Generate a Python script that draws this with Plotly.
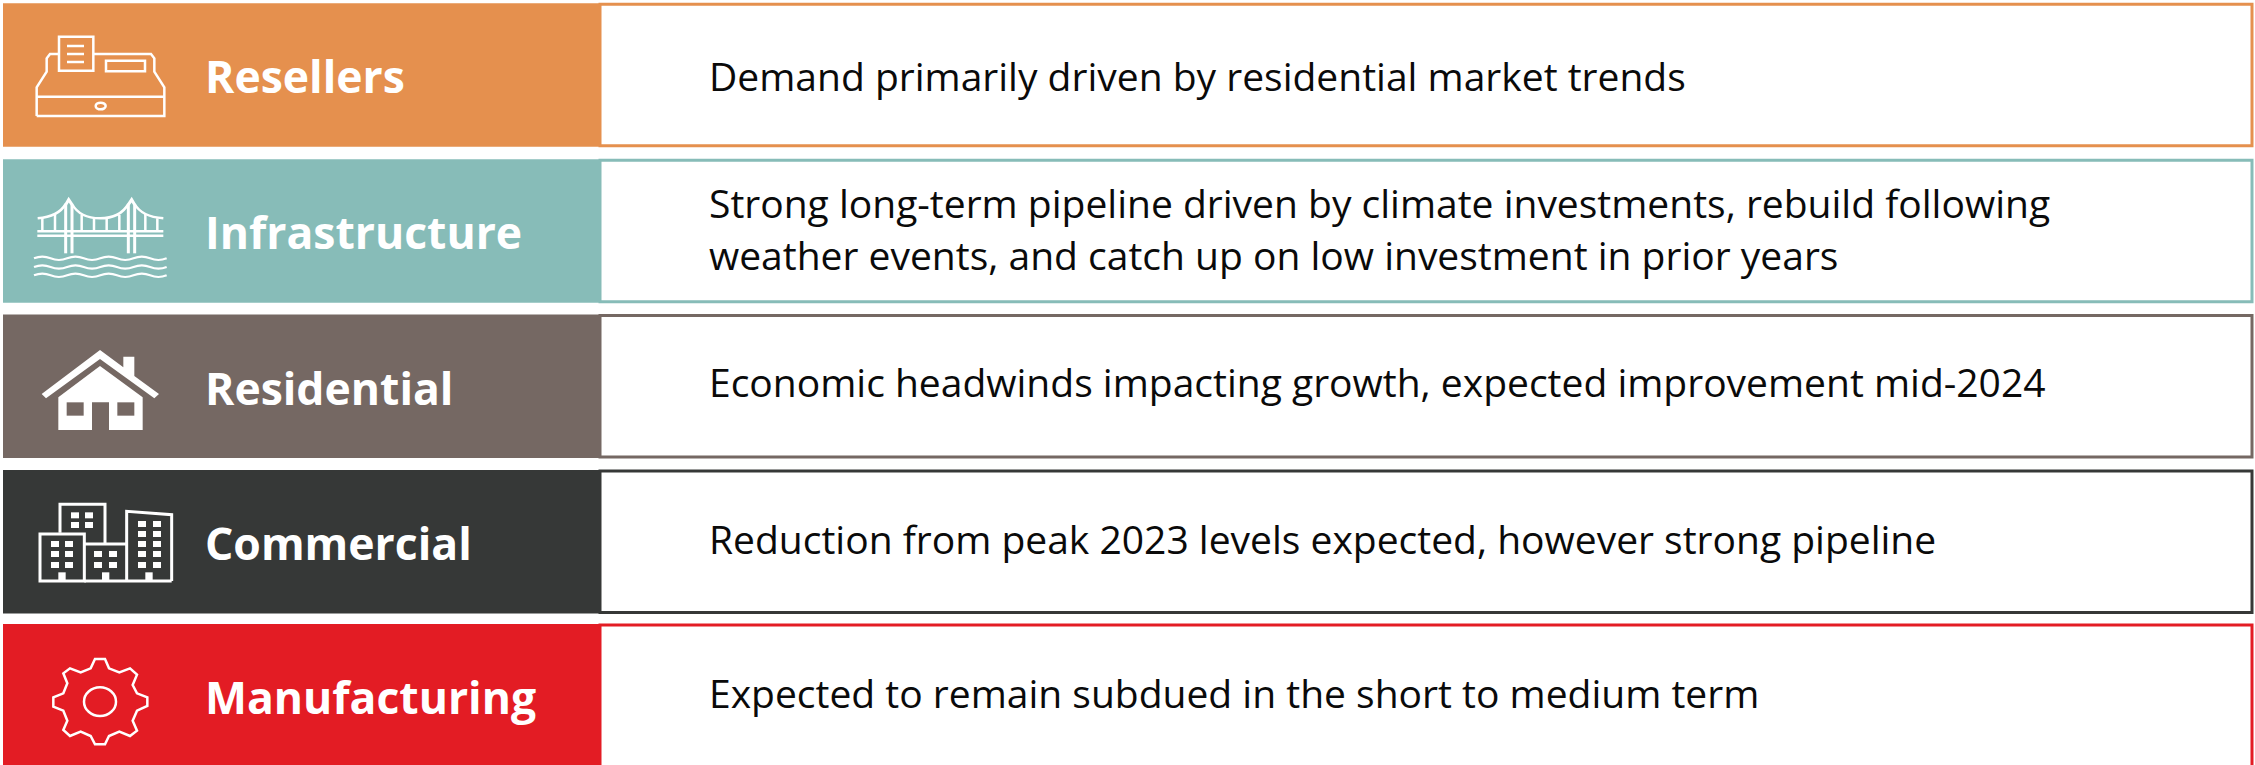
import plotly.graph_objects as go

categories = ["Resellers", "Infrastructure", "Residential", "Commercial", "Manufacturing"]
descriptions = [
    ["Demand primarily driven by residential market trends"],
    ["Strong long-term pipeline driven by climate investments, rebuild following",
     "weather events, and catch up on low investment in prior years"],
    ["Economic headwinds impacting growth, expected improvement mid-2024"],
    ["Reduction from peak 2023 levels expected, however strong pipeline"],
    ["Expected to remain subdued in the short to medium term"],
]
colors = ["#E5904E", "#87BCB8", "#756863", "#363837", "#E31C24"]
band_tops = [3.3, 159.3, 314.5, 470, 624]
desc_shift = [0, -3, -5, -3, -3]
label_shift = [0, 0, 1, 1, 1]
BAND_H = 143.5
X0, XM, X1 = 3, 600, 2252
FONT = "Open Sans"
LABEL_SIZE = 44.5
DESC_SIZE = 39
SW = 2.5
OX, F = 25, 3  # icon tracing origin and scale

shapes, annos = [], []

def X(x):
    return f"{OX + x / F:.2f}"

def Y(y, oy):
    return f"{oy + y / F:.2f}"

def zpath(points, oy, close=True):
    s = "M" + " L".join(f"{X(x)},{Y(y, oy)}" for x, y in points)
    return s + (" Z" if close else "")

def stroke(path, w=SW, color="white"):
    shapes.append(dict(type="path", path=path, line=dict(color=color, width=w), fillcolor="rgba(0,0,0,0)", layer="above"))

def fill(path, color="white"):
    shapes.append(dict(type="path", path=path, line=dict(width=0), fillcolor=color, layer="above"))

def zrect(x0, y0, x1, y1):
    return [(x0, y0), (x1, y0), (x1, y1), (x0, y1)]

def ellipse(cx, cy, rx, ry, oy):
    shapes.append(dict(type="circle", x0=OX + (cx - rx) / F, x1=OX + (cx + rx) / F,
                       y0=oy + (cy - ry) / F, y1=oy + (cy + ry) / F,
                       line=dict(color="white", width=SW), layer="above"))

# Bands
for top, c in zip(band_tops, colors):
    bot = top + BAND_H
    shapes.append(dict(type="rect", x0=XM, x1=X1, y0=top + 1, y1=bot - 1, line=dict(color=c, width=3), fillcolor="white", layer="below"))
    shapes.append(dict(type="rect", x0=X0, x1=XM, y0=top, y1=bot, line=dict(width=0), fillcolor=c, layer="below"))

# Register icon
O = 30
stroke(zpath([(35,258),(35,172),(65,125),(65,85),(75,72),(102,72)], O, close=False))
stroke(zpath([(205,72),(378,72),(388,85),(388,125),(418,172),(418,258),(35,258)], O, close=False))
stroke(zpath(zrect(102,20,205,122), O))
stroke(zpath(zrect(243,92,360,124), O))
stroke(zpath([(35,200),(418,200)], O, close=False))
for y in (48,72,96):
    stroke(zpath([(126,y),(177,y)], O, close=False))
ellipse(227, 228, 15, 10, O)

# Bridge icon
O = 190
def q(x0,y0,cx,cy,x1,y1):
    return f"M{X(x0)},{Y(y0,O)} Q{X(cx)},{Y(cy,O)} {X(x1)},{Y(y1,O)}"
for x in (122,141,310,329):
    stroke(zpath([(x,44),(x,190)], O, close=False), w=3)
stroke(zpath([(122,44),(131,29),(141,44)], O, close=False), w=3)
stroke(zpath([(310,44),(320,29),(329,44)], O, close=False), w=3)
stroke(q(38,85,100,80,122,42))
stroke(q(141,42,165,85,225,85))
stroke(q(225,85,285,85,310,42))
stroke(q(329,42,350,80,415,85))
for y in (124,137):
    stroke(zpath([(37,y),(415,y)], O, close=False))
for x, y in [(52,85),(90,72),(170,75),(207,85),(245,85),(283,75),(361,72),(397,85)]:
    stroke(zpath([(x,y),(x,124)], O, close=False))
for y in (205,231,256):
    p = f"M{X(27)},{Y(y,O)}"
    xs = [27 + i * 49.75 for i in range(9)]
    for i in range(8):
        d = -10 if i % 2 == 0 else 10
        p += f" Q{X(xs[i]+24.9)},{Y(y+d,O)} {X(xs[i+1])},{Y(y,O)}"
    stroke(p, w=2.1)

# House icon
O = 340
fill(zpath([(50,162),(225,30),(295,82),(295,50),(328,50),(328,108),(402,162),(388,175),(225,57),(63,175)], O))
fill(zpath([(100,270),(100,172),(225,78),(353,172),(353,270),(252,270),(252,187),(201,187),(201,270)], O))
fill(zpath(zrect(125,187,176,227), O), colors[2])
fill(zpath(zrect(277,187,328,227), O), colors[2])

# Buildings icon
O = 490
stroke(zpath([(105,128),(105,43),(240,43),(240,160)], O, close=False), w=3)
stroke(zpath(zrect(45,132,178,273), O), w=3)
stroke(zpath([(178,162),(305,162)], O, close=False), w=3)
stroke(zpath([(305,273),(305,64),(440,74),(440,273)], O, close=False), w=3)
stroke(zpath([(178,273),(440,273)], O, close=False), w=3)
def wins(xs, ys):
    for x in xs:
        for y in ys:
            fill(zpath(zrect(x, y, x+24, y+18), O))
wins((138,180), (67,96))
wins((78,120), (153,183,216))
wins((207,252), (183,216))
wins((339,384), (93,123,153,183,216))
for x in (100,231,361):
    fill(zpath(zrect(x, 247, x+22, 273), O))

# Gear icon
O = 650
gear = [(210,27),(240,27),(252,55),(283,67),(315,55),(336,74),(323,105),(336,130),(367,142),(367,168),
        (336,182),(323,212),(336,242),(315,258),(283,245),(252,258),(240,283),(210,283),(197,258),(167,245),
        (135,258),(115,240),(127,212),(115,182),(85,170),(85,142),(115,130),(127,100),(115,70),(135,55),
        (167,67),(197,55)]
stroke(zpath(gear, O))
ellipse(225, 155, 48, 43, O)

# Text
for top, cat, lines, ds, ls in zip(band_tops, categories, descriptions, desc_shift, label_shift):
    mid = top + BAND_H / 2
    annos.append(dict(x=203, y=mid + ls, text=f"<b>{cat}</b>", xref="x", yref="y", xanchor="left", yanchor="middle",
                      showarrow=False, font=dict(family=FONT, size=LABEL_SIZE, color="white")))
    n = len(lines)
    for i, line in enumerate(lines):
        annos.append(dict(x=707, y=mid + ds + (i - (n - 1) / 2) * 52, text=line, xref="x", yref="y", xanchor="left", yanchor="middle",
                          showarrow=False, font=dict(family=FONT, size=DESC_SIZE, color="#0A0A0A")))

fig = go.Figure()
fig.update_layout(
    width=2255, height=765, margin=dict(l=0, r=0, t=0, b=0),
    paper_bgcolor="white", plot_bgcolor="white", showlegend=False,
    xaxis=dict(range=[0, 2255], visible=False, fixedrange=True),
    yaxis=dict(range=[765, 0], visible=False, fixedrange=True),
    shapes=shapes, annotations=annos,
)
fig.write_html("out.html", config=dict(displayModeBar=False),
               post_script="document.body.style.margin='0';document.documentElement.style.overflow='hidden';")
